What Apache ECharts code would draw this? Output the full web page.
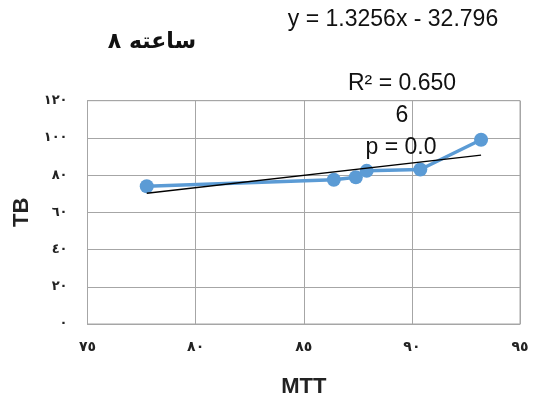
<!DOCTYPE html>
<html><head><meta charset="utf-8">
<script src="https://cdn.jsdelivr.net/npm/echarts@6/dist/echarts.min.js"></script>
<style>html,body{margin:0;padding:0;background:#fff}#c{width:533px;height:403px}</style>
</head><body><div id="c"></div>
<script>
const mttValues = [77.74, 86.39, 87.41, 87.91, 90.39, 93.20];
const tbValues = [74.0, 77.5, 78.9, 82.3, 83.0, 99.0];
const xTickValues = [75, 80, 85, 90, 95];
const xTickLabels = ['٧٥', '٨٠', '٨٥', '٩٠', '٩٥'];
const yTickValues = [0, 20, 40, 60, 80, 100, 120];
const yTickLabels = ['٠', '٢٠', '٤٠', '٦٠', '٨٠', '١٠٠', '١٢٠'];
const trendSlope = 1.3256;
const trendIntercept = -32.796;
const titleText = '٨\u200E ساعته';
const equationText = 'y = 1.3256x - 32.796';
const statsLines = ['R² = 0.650', '6', 'p = 0.0'];

const pts = mttValues.map((x, i) => [x, tbValues[i]]);
const xMin = Math.min(...mttValues), xMax = Math.max(...mttValues);
const trend = [[xMin, trendSlope * xMin + trendIntercept], [xMax, trendSlope * xMax + trendIntercept]];
const lab = (vals, labels) => v => { const i = vals.indexOf(v); return i >= 0 ? labels[i] : ''; };

const chart = echarts.init(document.getElementById('c'), null, {renderer: 'canvas'});
const txtFont = '"Liberation Sans", Arial, sans-serif';
const t = (text, x, y, font) => ({type: 'text', x: x, y: y, silent: true, z: 10,
  style: {text: text, font: font, fill: '#111', align: 'center', verticalAlign: 'middle'}});
chart.setOption({
  animation: false,
  backgroundColor: '#fff',
  grid: {left: 87.5, right: 13, top: 100.7, bottom: 77.7, show: true, borderColor: '#a6a6a6', borderWidth: 1},
  xAxis: {
    type: 'value', min: 75, max: 95, interval: 5,
    name: 'MTT', nameLocation: 'middle', nameGap: 63,
    nameTextStyle: {fontFamily: txtFont, fontWeight: 'bold', fontSize: 22, color: '#222', verticalAlign: 'middle'},
    axisLine: {show: true, lineStyle: {color: '#a6a6a6'}},
    axisTick: {show: false},
    axisLabel: {formatter: lab(xTickValues, xTickLabels), margin: 16, fontFamily: '"DejaVu Sans", sans-serif', fontWeight: 'bold', fontSize: 14, color: '#222'},
    splitLine: {show: true, lineStyle: {color: '#a6a6a6', width: 1}}
  },
  yAxis: {
    type: 'value', min: 0, max: 120, interval: 20,
    name: 'TB', nameLocation: 'middle', nameGap: 65, nameRotate: 90,
    nameTextStyle: {fontFamily: txtFont, fontWeight: 'bold', fontSize: 22, color: '#222', verticalAlign: 'middle'},
    axisLine: {show: true, lineStyle: {color: '#a6a6a6'}},
    axisTick: {show: false},
    axisLabel: {formatter: lab(yTickValues, yTickLabels), margin: 20, fontFamily: '"DejaVu Sans", sans-serif', fontWeight: 'bold', fontSize: 13, color: '#222'},
    splitLine: {show: true, lineStyle: {color: '#a6a6a6', width: 1}}
  },
  graphic: [
    t(titleText, 152, 42, 'bold 22px "DejaVu Sans", sans-serif'),
    t(equationText, 393, 20, '23px ' + txtFont),
    t(statsLines[0], 402, 84, '23px ' + txtFont),
    t(statsLines[1], 402, 116, '23px ' + txtFont),
    t(statsLines[2], 401, 148, '23px ' + txtFont)
  ],
  series: [
    {type: 'line', data: pts, symbol: 'circle', symbolSize: 14,
     lineStyle: {color: '#5b9bd5', width: 3.5}, itemStyle: {color: '#5b9bd5'}, z: 3},
    {type: 'line', data: trend, symbol: 'none',
     lineStyle: {color: '#000', width: 1.3}, z: 4}
  ]
});
</script></body></html>
